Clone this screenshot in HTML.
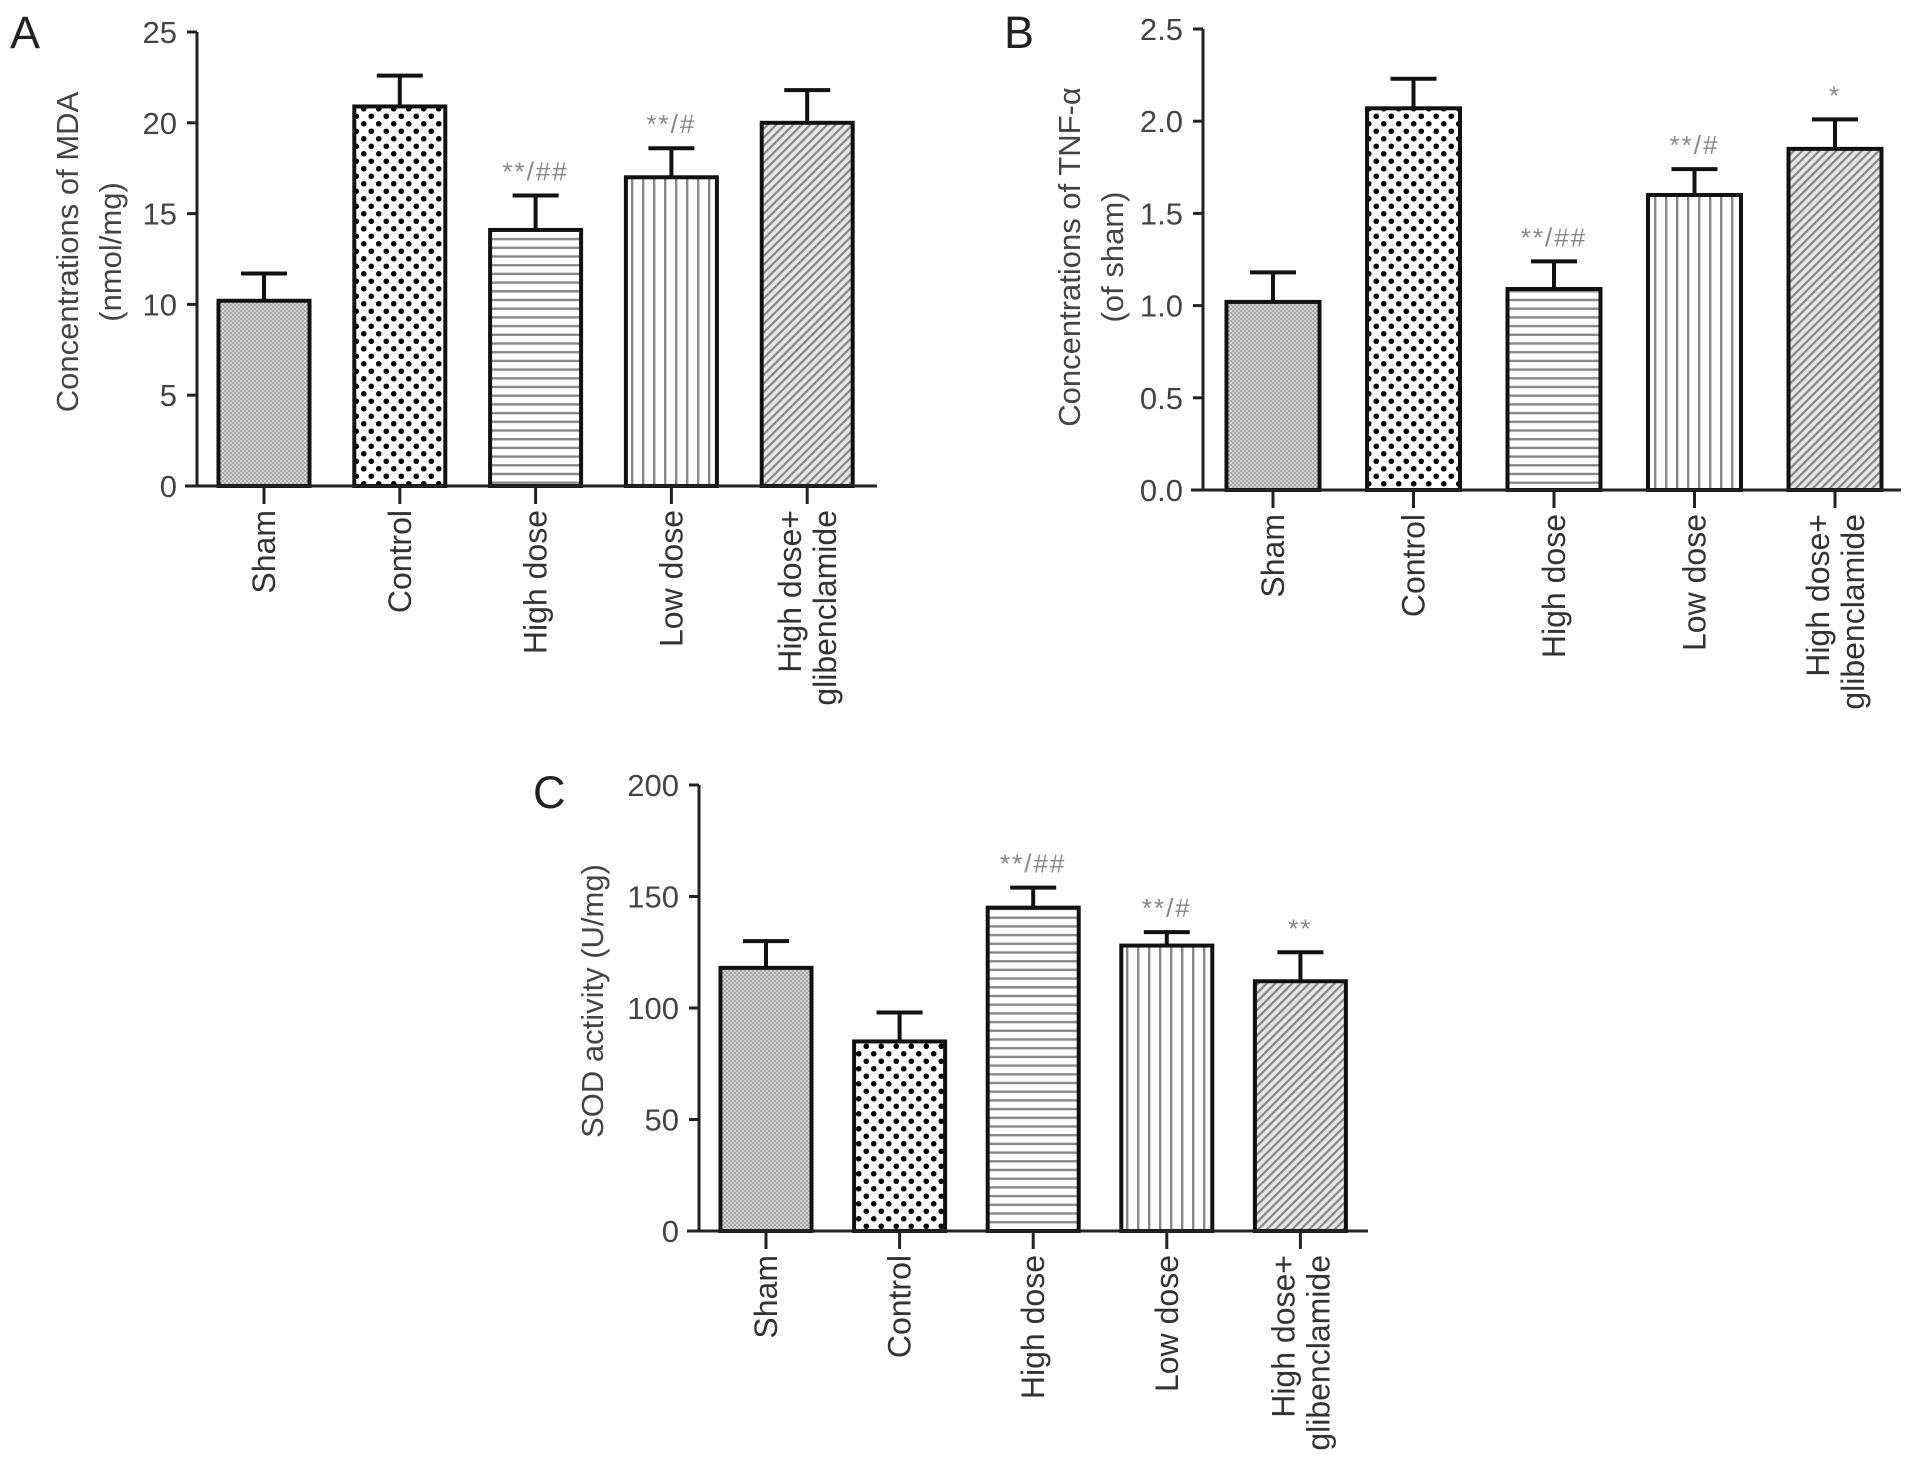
<!DOCTYPE html>
<html><head><meta charset="utf-8"><style>
html,body{margin:0;padding:0;background:#fff;overflow:hidden;}
svg{display:block;font-family:"Liberation Sans",sans-serif;}
</style></head><body>
<svg id="fig" width="1913" height="1467" viewBox="0 0 1913 1467" xmlns="http://www.w3.org/2000/svg">
<defs>
<pattern id="pSham" width="4" height="4" patternUnits="userSpaceOnUse"><rect width="4" height="4" fill="#a8a8a8"/><circle cx="1" cy="1" r="0.9" fill="#eee"/><circle cx="3" cy="3" r="0.9" fill="#eee"/></pattern>
<pattern id="pCtrl" width="15" height="15" patternUnits="userSpaceOnUse"><rect width="15" height="15" fill="#fff"/><circle cx="3.75" cy="3.75" r="2.8" fill="#000"/><circle cx="11.25" cy="11.25" r="2.8" fill="#000"/></pattern>
<pattern id="pHigh" width="8.7" height="8.7" patternUnits="userSpaceOnUse"><rect width="8.7" height="8.7" fill="#fff"/><rect y="3" width="8.7" height="2.4" fill="#888"/></pattern>
<pattern id="pLow" width="11" height="11" patternUnits="userSpaceOnUse"><rect width="11" height="11" fill="#fff"/><rect x="4" width="2.4" height="11" fill="#888"/></pattern>
<pattern id="pGli" width="6" height="6" patternUnits="userSpaceOnUse" patternTransform="rotate(45)"><rect width="6" height="6" fill="#e6e6e6"/><rect width="2.2" height="6" fill="#888"/></pattern>
</defs>
<g id="root"></g>
</svg>
<script>
var categories = ["Sham","Control","High dose","Low dose","High dose+|glibenclamide"];
var mdaValues = [10.2, 20.9, 14.1, 17.0, 20.0];
var mdaErrors = [1.5, 1.7, 1.9, 1.6, 1.8];
var mdaMarks = ["", "", "**/##", "**/#", ""];
var mdaTicks = [0, 5, 10, 15, 20, 25];
var tnfValues = [1.02, 2.07, 1.09, 1.60, 1.85];
var tnfErrors = [0.16, 0.16, 0.15, 0.14, 0.16];
var tnfMarks = ["", "", "**/##", "**/#", "*"];
var tnfTicks = ["0.0", "0.5", "1.0", "1.5", "2.0", "2.5"];
var sodValues = [118, 85, 145, 128, 112];
var sodErrors = [12, 13, 9, 6, 13];
var sodMarks = ["", "", "**/##", "**/#", "**"];
var sodTicks = [0, 50, 100, 150, 200];

var NS = "http://www.w3.org/2000/svg";
var root = document.getElementById('root');
var fills = ["url(#pSham)","url(#pCtrl)","url(#pHigh)","url(#pLow)","url(#pGli)"];
function mk(tag, attrs, parent){var e=document.createElementNS(NS,tag);for(var k in attrs)e.setAttribute(k,attrs[k]);(parent||root).appendChild(e);return e;}

function panel(cfg){
  var g = mk('g',{});
  
  
  var ymax = cfg.ymax;
  function y(v){return cfg.y0 - (v/ymax)*(cfg.y0-cfg.yTop);}
  function x(i){return cfg.x0c + i*cfg.step;}
  var L = mk('text',{x:cfg.letterX,y:cfg.letterY,'font-size':45,fill:'#222'},g);
  L.textContent = cfg.letter;
  
  
  for(var i=0;i<categories.length;i++){
    var v = cfg.values[i], e = cfg.errors[i];
    var cx = x(i);
    var bar = mk('rect',{x:cx-cfg.bw/2,y:y(v),width:cfg.bw,height:cfg.y0-y(v),fill:fills[i],stroke:'#111','stroke-width':4},g);
    
    
    var eb = mk('path',{d:'M'+cx+' '+y(v)+'V'+y(v+e)+'M'+(cx-23)+' '+y(v+e)+'H'+(cx+23),stroke:'#111','stroke-width':4,fill:'none'},g);
    
    
    if(cfg.marks[i]){
      var t = mk('text',{x:cx,y:y(v+e)-15,'font-size':26,'letter-spacing':2,fill:'#888','text-anchor':'middle'},g);
      t.textContent = cfg.marks[i];
      
      
    }
    mk('line',{x1:cx,y1:cfg.y0,x2:cx,y2:cfg.y0+18,stroke:'#222','stroke-width':3},g);
    var parts = categories[i].split('|');
    var lg = mk('text',{transform:'translate('+cx+','+(cfg.y0+24)+') rotate(-90)','font-size':32,fill:'#333','text-anchor':'end'},g);
    
    
    for(var p=0;p<parts.length;p++){
      var ts = mk('tspan',{x:0,y:(parts.length===1?11:(p===0?-6:29))},lg);
      ts.textContent = parts[p];
    }
  }
  var ya = mk('line',{x1:cfg.ax,y1:cfg.y0,x2:cfg.ax,y2:cfg.yTop,stroke:'#222','stroke-width':3},g);
  
  
  var xa = mk('line',{x1:cfg.ax-12,y1:cfg.y0,x2:cfg.xEnd,y2:cfg.y0,stroke:'#222','stroke-width':3},g);
  
  
  for(var k=0;k<cfg.ticks.length;k++){
    var tv = parseFloat(cfg.ticks[k]);
    mk('line',{x1:cfg.ax-10,y1:y(tv),x2:cfg.ax,y2:y(tv),stroke:'#222','stroke-width':3},g);
    var tl = mk('text',{x:cfg.ax-20,y:y(tv)+11,'font-size':31,fill:'#444','text-anchor':'end'},g);
    tl.textContent = cfg.ticks[k];
    
    
  }
  var tt = mk('text',{transform:'translate('+cfg.titleX+','+cfg.titleY+') rotate(-90)','font-size':31,fill:'#444','text-anchor':'middle'},g);
  
  
  for(var q=0;q<cfg.title.length;q++){
    var s = mk('tspan',{x:0,y:q*43},tt);
    s.textContent = cfg.title[q];
  }
}

panel({name:'panel-a-mda',letter:'A',letterX:10,letterY:48,values:mdaValues,errors:mdaErrors,marks:mdaMarks,ticks:mdaTicks,ymax:25,
  y0:486,yTop:32,ax:197,xEnd:877,x0c:264,step:135.8,bw:91,title:['Concentrations of MDA','(nmol/mg)'],titleX:78,titleY:252});
panel({name:'panel-b-tnf',letter:'B',letterX:1004,letterY:48,values:tnfValues,errors:tnfErrors,marks:tnfMarks,ticks:tnfTicks,ymax:2.5,
  y0:490,yTop:29,ax:1203,xEnd:1901,x0c:1273,step:140.5,bw:93,title:['Concentrations of TNF-\u03b1','(of sham)'],titleX:1080,titleY:257});
panel({name:'panel-c-sod',letter:'C',letterX:533,letterY:808,values:sodValues,errors:sodErrors,marks:sodMarks,ticks:sodTicks,ymax:200,
  y0:1231,yTop:785,ax:699,xEnd:1368,x0c:766,step:133.6,bw:91,title:['SOD activity (U/mg)'],titleX:603,titleY:1001});
</script>
</body></html>
